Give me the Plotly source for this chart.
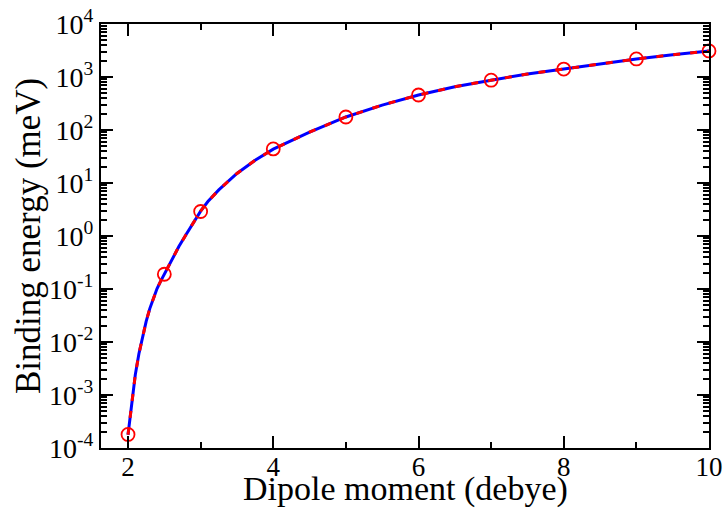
import plotly.graph_objects as go

# Computed binding energy curve (meV) versus dipole moment (debye)
curve_x = [2.0, 2.05, 2.10, 2.15, 2.20, 2.25, 2.30, 2.35, 2.40, 2.45, 2.5, 2.6, 2.7, 2.8, 2.9,
           3.0, 3.1, 3.25, 3.5, 3.75, 4.0, 4.5, 5.0, 5.5, 6.0, 6.5, 7.0, 7.5, 8.0, 8.5, 9.0,
           9.5, 10.0]
curve_y = [1.78e-4, 7.6e-4, 2.4e-3, 6.0e-3, 0.0129, 0.0245, 0.0427, 0.0692, 0.102, 0.141,
           0.19, 0.355, 0.631, 1.07, 1.82, 2.95, 4.47, 7.41, 15.1, 26.9, 43.6, 91, 176,
           295, 457, 653, 871, 1135, 1413, 1778, 2188, 2630, 3090]

# Sampled points shown as open circles
pts_x = [2.0, 2.5, 3.0, 4.0, 5.0, 6.0, 7.0, 8.0, 9.0, 10.0]
pts_y = [1.8e-4, 0.19, 2.9, 44, 176, 457, 870, 1410, 2190, 3100]

# Decade tick labels
y_tickvals = [1e-4, 1e-3, 1e-2, 1e-1, 1e0, 1e1, 1e2, 1e3, 1e4]
y_ticktext = ["10<sup>-4</sup>", "10<sup>-3</sup>", "10<sup>-2</sup>", "10<sup>-1</sup>",
              "10<sup>0</sup>", "10<sup>1</sup>", "10<sup>2</sup>", "10<sup>3</sup>", "10<sup>4</sup>"]
y_minorvals = [m * 10.0 ** e for e in range(-4, 4) for m in range(2, 10)]

FONT = "Liberation Serif"

fig = go.Figure()
fig.add_trace(go.Scatter(x=curve_x, y=curve_y, mode="lines",
                         line=dict(color="#0000ff", width=3),
                         showlegend=False, hoverinfo="skip"))
fig.add_trace(go.Scatter(x=curve_x, y=curve_y, mode="lines",
                         line=dict(color="#ff0000", width=3, dash="7px,10px"),
                         showlegend=False, hoverinfo="skip"))
fig.add_trace(go.Scatter(x=pts_x, y=pts_y, mode="markers",
                         marker=dict(symbol="circle-open", size=13,
                                     color="#ff0000", line=dict(width=1.8, color="#ff0000")),
                         cliponaxis=False, showlegend=False))

fig.update_layout(
    width=723, height=510,
    margin=dict(l=101, r=14, t=24, b=62),
    paper_bgcolor="white", plot_bgcolor="white",
    font=dict(family=FONT, color="black", size=27),
    annotations=[
        dict(text="Dipole moment (debye)", xref="paper", yref="paper", x=0.5, y=0,
             xanchor="center", yanchor="bottom", yshift=-62, showarrow=False,
             font=dict(family=FONT, size=34)),
        dict(text="Binding energy (meV)", xref="paper", yref="paper", x=0, y=0.5,
             xanchor="center", yanchor="middle", xshift=-73, textangle=-90, showarrow=False,
             font=dict(family=FONT, size=35)),
    ],
)
fig.update_xaxes(
    range=[1.628, 10], tickmode="linear", tick0=2, dtick=2,
    ticks="inside", ticklen=12, tickwidth=1.5, tickcolor="black",
    minor=dict(ticks="inside", ticklen=6, tickwidth=1.5, tickcolor="black", dtick=1, tick0=1),
    showline=True, linecolor="black", linewidth=2, mirror="ticks",
    showgrid=False, zeroline=False, automargin=False, ticklabelstandoff=-6,
    tickfont=dict(family=FONT, size=27),
)
fig.update_yaxes(
    type="log", range=[-4, 4], tickmode="array", tickvals=y_tickvals, ticktext=y_ticktext,
    ticks="inside", ticklen=12, tickwidth=1.5, tickcolor="black",
    minor=dict(ticks="inside", ticklen=6, tickwidth=1.5, tickcolor="black",
               tickmode="array", tickvals=y_minorvals),
    showline=True, linecolor="black", linewidth=2, mirror="ticks",
    showgrid=False, zeroline=False, automargin=False,
    tickfont=dict(family=FONT, size=28),
)

fig.write_html("out.html")
